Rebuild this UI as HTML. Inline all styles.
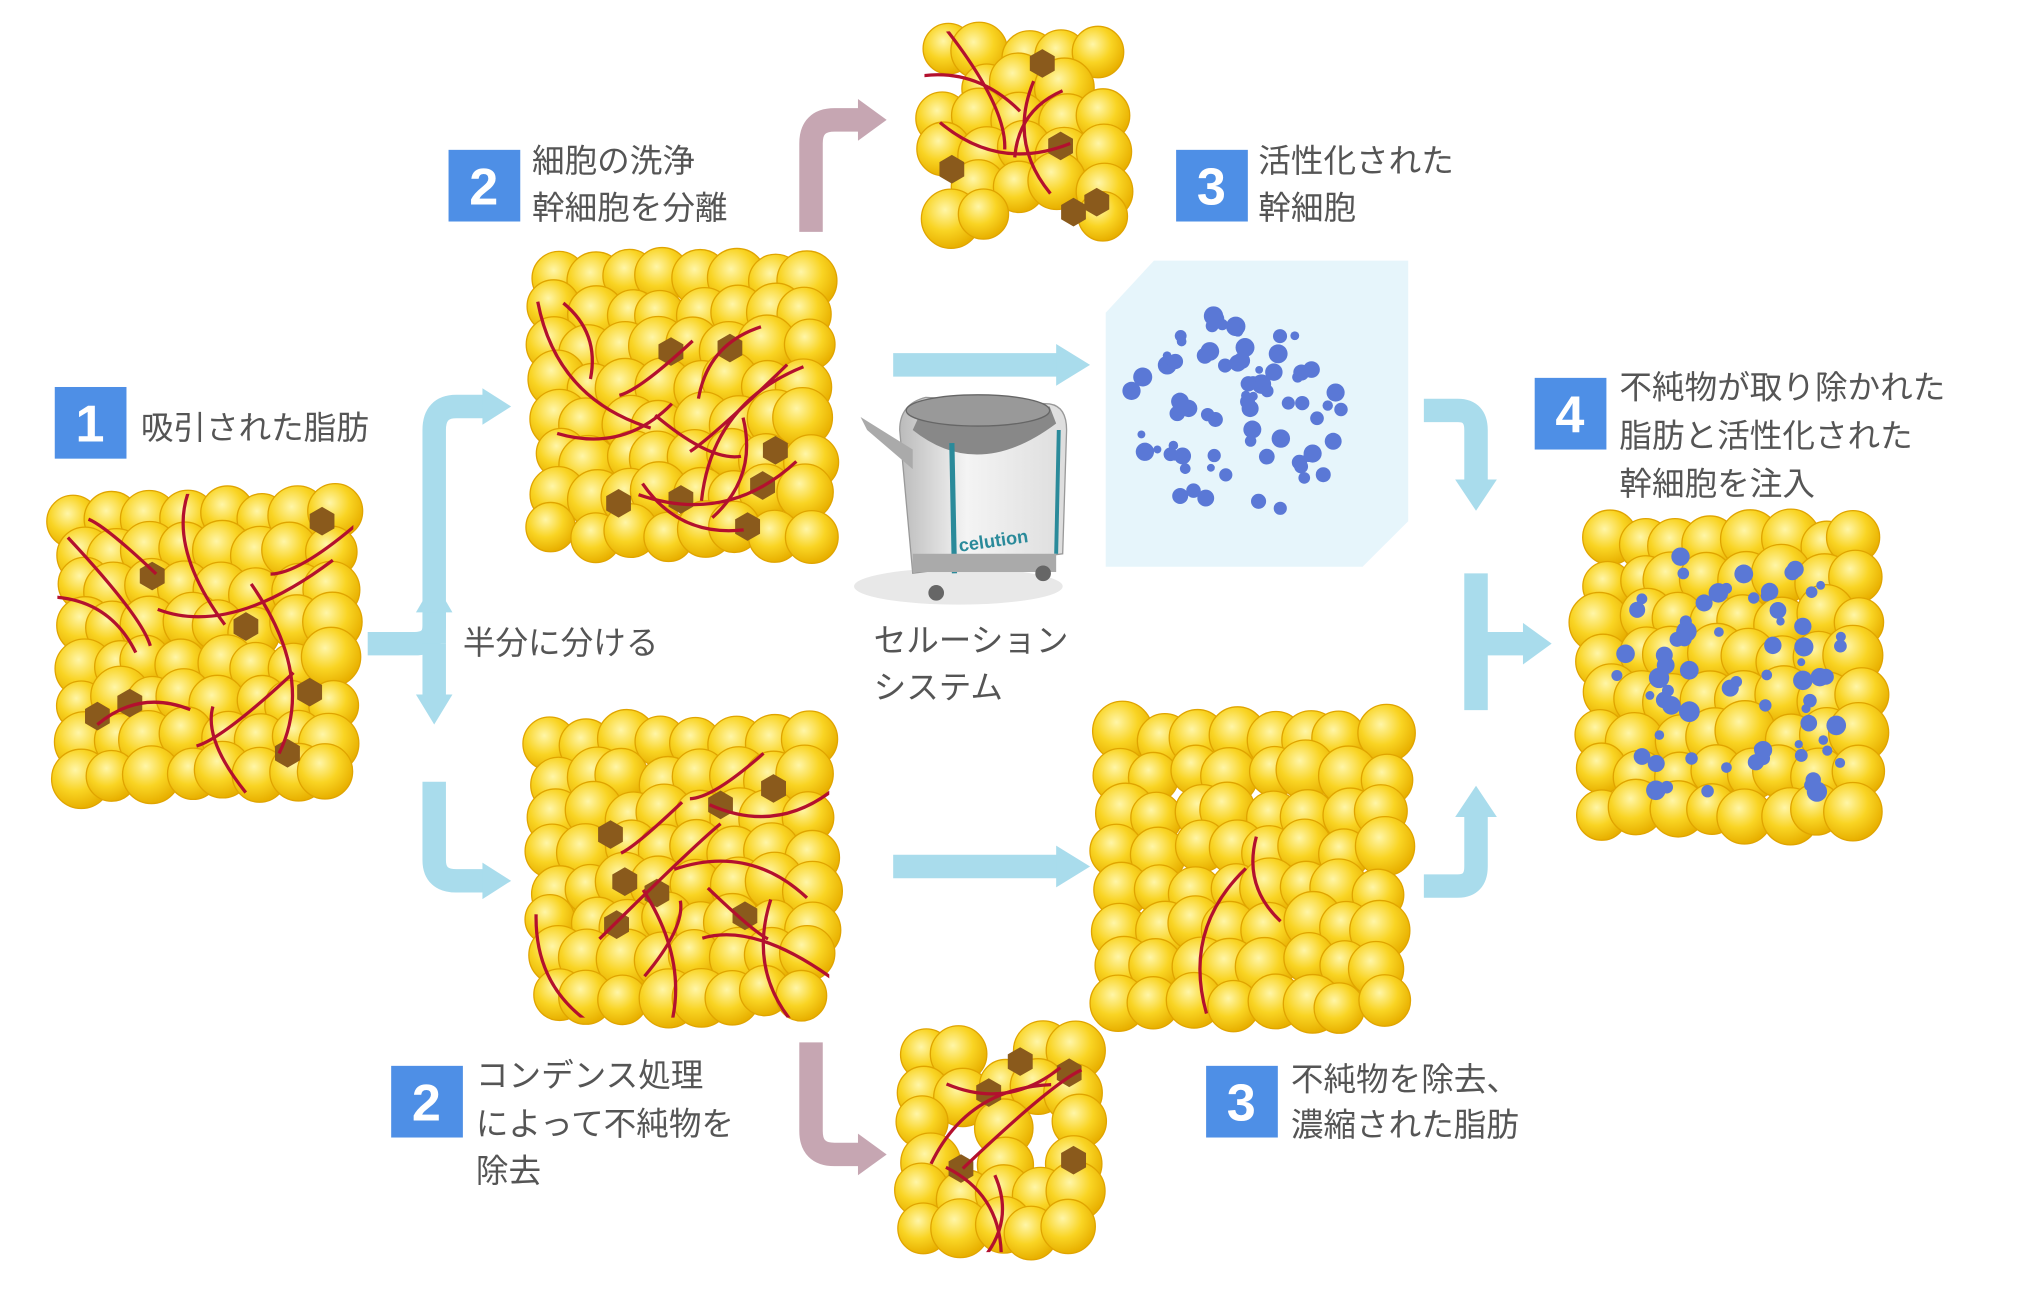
<!DOCTYPE html>
<html><head><meta charset="utf-8"><style>
html,body{margin:0;padding:0;background:#fff;}
svg{display:block}
text{font-family:"Liberation Sans","Noto Sans CJK JP",sans-serif;fill:#555;}
.b{fill:#fff;font-size:40px;font-weight:bold;text-anchor:middle}
.t{font-size:25px}
</style></head><body>
<svg id="s" width="2038" height="1303" viewBox="0 0 1563 1000" preserveAspectRatio="none" xmlns="http://www.w3.org/2000/svg">
<defs id="defs">
<radialGradient id="y" cx="40%" cy="35%" r="65%"><stop offset="0" stop-color="#fff6a8"/><stop offset="0.55" stop-color="#f9d423"/><stop offset="1" stop-color="#e8b000"/></radialGradient>
<linearGradient id="m" x1="0" x2="1"><stop offset="0" stop-color="#bbb"/><stop offset="0.4" stop-color="#f4f4f4"/><stop offset="1" stop-color="#ddd"/></linearGradient>
</defs>
<polygon points="848,240 885,200 1080,200 1080,400 1045,435 848,435" fill="#e6f5fb"/>
<g fill="none" stroke="#a9dcec" stroke-width="18">
<path d="M282,494 H318 Q333,494 333,480 V330 Q333,312 350,312 H372"/>
<path d="M333,494 V470"/>
<path d="M333,494 V535"/>
<path d="M333,600 V660 Q333,676 350,676 H372"/>
<path d="M685,280 H812"/>
<path d="M685,665 H812"/>
<path d="M1092,315 H1118 Q1132,315 1132,330 V370"/>
<path d="M1132,440 V545"/>
<path d="M1132,494 H1170"/>
<path d="M1092,680 H1118 Q1132,680 1132,665 V625"/>
</g>
<g fill="#a9dcec">
<polygon points="370,298 392,312 370,326"/><polygon points="319,470 333,446 347,470"/><polygon points="319,533 333,556 347,533"/>
<polygon points="370,662 392,676 370,690"/><polygon points="810,264 836,280 810,296"/><polygon points="810,649 836,665 810,681"/>
<polygon points="1116,368 1132,392 1148,368"/><polygon points="1168,478 1190,494 1168,510"/><polygon points="1116,627 1132,603 1148,627"/>
</g>
<g fill="none" stroke="#c6a6b2" stroke-width="18">
<path d="M622,178 V110 Q622,92 640,92 H660"/>
<path d="M622,800 V868 Q622,886 640,886 H660"/>
</g>
<g fill="#c6a6b2"><polygon points="658,76 680,92 658,108"/><polygon points="658,870 680,886 658,902"/></g>
<g id="blobs"></g>
<g>
<ellipse cx="735" cy="450" rx="80" ry="14" fill="#e8e8e8"/>
<path d="M690,330 Q690,310 710,305 L805,310 Q818,312 818,330 L815,425 L700,440 Z" fill="url(#m)" stroke="#999"/>
<path d="M700,330 Q750,370 810,325 L805,312 L710,308Z" fill="#888"/>
<ellipse cx="750" cy="315" rx="55" ry="12" fill="#999" stroke="#666"/>
<line x1="730" y1="340" x2="732" y2="440" stroke="#2a8a9a" stroke-width="4"/>
<line x1="812" y1="330" x2="810" y2="425" stroke="#2a8a9a" stroke-width="3"/>
<path d="M660,320 L700,345 L700,360 L665,330Z" fill="#aaa"/>
<rect x="700" y="425" width="110" height="14" fill="#aaa"/>
<circle cx="718" cy="455" r="6" fill="#666"/><circle cx="800" cy="440" r="6" fill="#666"/>
<text x="735" y="420" style="font-size:14px;fill:#2a8a9a;font-weight:bold" transform="rotate(-8 760 415)">celution</text>
</g>
<g fill="#4e8fe6">
<rect x="42" y="297" width="55" height="55"/><rect x="344" y="115" width="55" height="55"/><rect x="902" y="115" width="55" height="55"/>
<rect x="1177" y="290" width="55" height="55"/><rect x="300" y="818" width="55" height="55"/><rect x="925" y="818" width="55" height="55"/>
</g>
<text class="b" x="69" y="339">1</text><text class="b" x="371" y="157">2</text><text class="b" x="929" y="157">3</text>
<text class="b" x="1204" y="332">4</text><text class="b" x="327" y="860">2</text><text class="b" x="952" y="860">3</text>
<text class="t" x="108" y="337">吸引された脂肪</text>
<text class="t" x="408" y="132">細胞の洗浄</text><text class="t" x="408" y="168">幹細胞を分離</text>
<text class="t" x="965" y="132">活性化された</text><text class="t" x="965" y="168">幹細胞</text>
<text class="t" x="1242" y="306">不純物が取り除かれた</text><text class="t" x="1242" y="343">脂肪と活性化された</text><text class="t" x="1242" y="380">幹細胞を注入</text>
<text class="t" x="355" y="502">半分に分ける</text>
<text class="t" x="670" y="500">セルーション</text><text class="t" x="670" y="536">システム</text>
<text class="t" x="365" y="834">コンデンス処理</text><text class="t" x="365" y="871">によって不純物を</text><text class="t" x="365" y="907">除去</text>
<text class="t" x="990" y="837">不純物を除去、</text><text class="t" x="990" y="872">濃縮された脂肪</text>
</svg>
<script>
var seed=7;function r(){seed=(seed*16807)%2147483647;return (seed-1)/2147483646;}
var NS="http://www.w3.org/2000/svg",G0=document.getElementById("blobs"),D=document.getElementById("defs"),G=G0,cid=0;
function el(n,a,p){var e=document.createElementNS(NS,n);for(var k in a)e.setAttribute(k,a[k]);(p||G).appendChild(e);return e;}
function blob(x,y,w,h,opt){
 var cr=opt.r||21;
 cid++;var cp=el("clipPath",{id:"c"+cid},D);el("rect",{x:x+4,y:y+4,width:w-8,height:h-8,rx:20},cp);
 G=el("g",{"clip-path":"url(#c"+cid+")"},G0);
 var cols=Math.round(w/(cr*1.45)),rows=Math.round(h/(cr*1.45));
 var G1=G;G=G0;
 for(var i=0;i<rows;i++)for(var j=0;j<cols;j++){
  if(opt.sparse&&r()<opt.sparse)continue;
  var cx=x+cr+(w-2*cr)*(j/(cols-1))+(r()-0.5)*10,cy=y+cr+(h-2*cr)*(i/(rows-1))+(r()-0.5)*10;
  el("circle",{cx:cx,cy:cy,r:cr*(0.9+r()*0.2),fill:"url(#y)",stroke:"#e0a400","stroke-width":1});
 }
 G0.appendChild(G1);G=G1;
 for(var k=0;k<(opt.hex||0);k++){var hx=x+20+r()*(w-40),hy=y+20+r()*(h-40),s=11,p=[];for(var q=0;q<6;q++){var a=Math.PI/3*q+Math.PI/6;p.push((hx+s*Math.cos(a)).toFixed(1)+","+(hy+s*Math.sin(a)).toFixed(1));}el("polygon",{points:p.join(" "),fill:"#8a5a1c"});}
 for(var k=0;k<(opt.red||0);k++){
  var cx=x+30+r()*(w-60),cy=y+30+r()*(h-60),a=r()*Math.PI*2,L=30+r()*40;
  var x1=cx-Math.cos(a)*L,y1=cy-Math.sin(a)*L,x2=cx+Math.cos(a)*L,y2=cy+Math.sin(a)*L;
  var bx=cx+Math.sin(a)*L*0.6*(r()<0.5?-1:1),by=cy-Math.cos(a)*L*0.6;
  el("path",{d:"M"+x1+","+y1+" Q"+bx+","+by+" "+x2+","+y2,fill:"none",stroke:"#b3102e","stroke-width":2.5});}
 for(var k=0;k<(opt.blue||0);k++){el("circle",{cx:x+30+r()*(w-60),cy:y+30+r()*(h-60),r:3+r()*5,fill:"#5a78d6"});}
 G=G0;
}
blob(40,375,235,240,{hex:7,red:10});
blob(405,190,235,240,{hex:7,red:11});
blob(405,550,235,235,{hex:7,red:11});
blob(705,20,160,170,{hex:5,red:5,sparse:0.12});
blob(690,790,155,175,{hex:5,red:5,sparse:0.12});
blob(840,545,240,245,{red:2});
blob(1210,395,235,250,{blue:70});
for(var k=0;k<75;k++){var a=r()*Math.PI*2,d=Math.sqrt(r())*80;el("circle",{cx:948+Math.cos(a)*d*1.05,cy:320+Math.sin(a)*d,r:3+r()*4.5,fill:"#5a78d6"});}
</script>
</body></html>
